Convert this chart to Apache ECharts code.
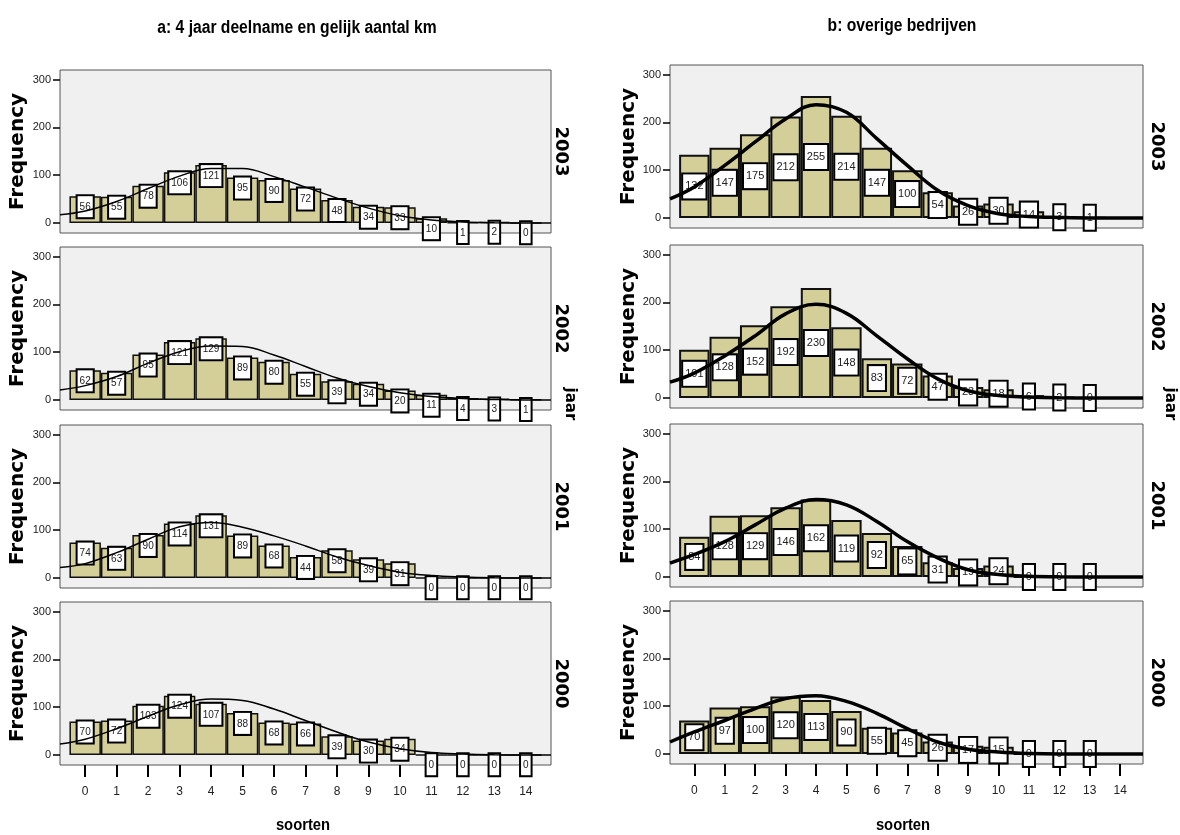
<!DOCTYPE html>
<html>
<head>
<meta charset="utf-8">
<title>soorten per jaar</title>
<script src="https://cdn.jsdelivr.net/npm/echarts@6/dist/echarts.min.js"></script>
<style>
  html, body { margin: 0; padding: 0; background: #fff; }
  #chart { width: 1180px; height: 835px; }
</style>
</head>
<body>
<div id="chart"></div>
<script>
// histogrammen aantal soorten per jaar, a = 4 jaar deelname, b = overige bedrijven

const bins = [0, 1, 2, 3, 4, 5, 6, 7, 8, 9, 10, 11, 12, 13, 14];
const binsB = [0, 1, 2, 3, 4, 5, 6, 7, 8, 9, 10, 11, 12, 13];
const years = ['2003', '2002', '2001', '2000'];
const yTicks = [0, 100, 200, 300];

// a: 4 jaar deelname en gelijk aantal km
const a2003 = [56, 55, 78, 106, 121, 95, 90, 72, 48, 34, 33, 10, 1, 2, 0];
const a2002 = [62, 57, 95, 121, 129, 89, 80, 55, 39, 34, 20, 11, 4, 3, 1];
const a2001 = [74, 63, 90, 114, 131, 89, 68, 44, 58, 39, 31, 0, 0, 0, 0];
const a2000 = [70, 72, 103, 124, 107, 88, 68, 66, 39, 30, 34, 0, 0, 0, 0];

// b: overige bedrijven
const b2003 = [132, 147, 175, 212, 255, 214, 147, 100, 54, 26, 30, 14, 3, 1];
const b2002 = [101, 128, 152, 192, 230, 148, 83, 72, 47, 23, 18, 6, 2, 0];
const b2001 = [84, 128, 129, 146, 162, 119, 92, 65, 31, 19, 24, 0, 0, 0];
const b2000 = [70, 97, 100, 120, 113, 90, 55, 45, 26, 17, 15, 0, 0, 0];

// normale curve
const curveXA = [-0.8, 0, 1, 2, 3, 4, 5, 6, 7, 8, 9, 10, 11, 12, 13, 14, 14.8];
const curveXB = [-0.8, 0, 1, 2, 3, 4, 5, 6, 7, 8, 9, 10, 11, 12, 13, 14, 14.75];
const ca2003 = [17, 25, 45, 72, 98, 114, 114, 97, 75, 52, 31, 15, 6, 2, 0.5, 0, 0];
const ca2002 = [21, 30, 49, 77, 101, 113, 112, 94, 70, 46, 28, 15, 7, 3, 1, 0, 0];
const ca2001 = [22, 30, 53, 81, 107, 116, 106, 88, 67, 44, 26, 12, 5, 2, 0.5, 0, 0];
const ca2000 = [23, 33, 55, 81, 105, 117, 114, 96, 72, 48, 27, 13, 5, 2, 0.5, 0, 0];
const cb2003 = [40, 65, 110, 159, 207, 237, 221, 166, 110, 58, 26, 9, 3, 1, 0, 0, 0];
const cb2002 = [33, 52, 88, 130, 176, 196, 177, 130, 82, 40, 15, 5, 2, 0.5, 0, 0, 0];
const cb2001 = [29, 47, 74, 109, 144, 162, 151, 116, 74, 40, 15, 5, 1.5, 0.5, 0, 0, 0];
const cb2000 = [25, 46, 70, 95, 116, 122, 110, 85, 53, 25, 10, 4, 1, 0, 0, 0, 0];

const SANS = "'Liberation Sans', Arial, sans-serif";
const BOLD_WIDE = "'DejaVu Sans', 'Liberation Sans', sans-serif";
const BAR_FILL = '#d4cf98';
const NARROW_SCALE = 0.87; // Arial Narrow nabootsen

const columns = [
  {
    key: 'a', left: 60, width: 491, tops: [70, 247, 425, 602], min: -0.8, max: 14.8,
    bins, counts: [a2003, a2002, a2001, a2000], curveX: curveXA, curves: [ca2003, ca2002, ca2001, ca2000],
    labelPos: 'insideTop', lineWidth: 1.5, barBorder: 1.5, fontSize: 10, padding: [6, 2, 5, 2],
    yearX: 561, jaarX: 570, nameGap: 32, soortenX: 303,
  },
  {
    key: 'b', left: 670, width: 473, tops: [65, 245, 424, 601], min: -0.8, max: 14.75,
    bins: binsB, counts: [b2003, b2002, b2001, b2000], curveX: curveXB, curves: [cb2003, cb2002, cb2001, cb2000],
    labelPos: 'inside', lineWidth: 3.5, barBorder: 2, fontSize: 11, padding: [7, 2, 6, 2],
    yearX: 1157, jaarX: 1170, nameGap: 29, soortenX: 903,
  },
];
const PANEL_H = 163;

const chart = echarts.init(document.getElementById('chart'));

const grid = [];
const xAxis = [];
const yAxis = [];
const series = [];
const graphic = [];

function rotatedText(x, y, text, font) {
  return {
    type: 'text', x, y, rotation: -Math.PI / 2,
    style: {
      text, font, fill: '#000',
      align: 'center', verticalAlign: 'middle',
      textAlign: 'center', textVerticalAlign: 'middle',
    },
  };
}

function narrowText(x, y, text, size) {
  return {
    type: 'text', x, y, scaleX: NARROW_SCALE,
    style: {
      text, font: `bold ${size}px ${SANS}`, fill: '#000',
      align: 'center', verticalAlign: 'middle',
      textAlign: 'center', textVerticalAlign: 'middle',
    },
  };
}

columns.forEach(col => {
  const step = col.width / (col.max - col.min);
  col.tops.forEach((top, row) => {
    const idx = grid.length;
    const isBottom = row === col.tops.length - 1;
    grid.push({
      left: col.left, top, width: col.width, height: PANEL_H,
      show: true, backgroundColor: '#f0f0f0', borderColor: '#555', borderWidth: 1,
    });
    xAxis.push({
      type: 'value', gridIndex: idx, min: col.min, max: col.max,
      axisLine: { show: false, onZero: false },
      splitLine: { show: false },
      axisTick: { show: isBottom, customValues: bins, length: 12, lineStyle: { color: '#000', width: 2 } },
      axisLabel: { show: isBottom, customValues: bins, margin: 21, fontSize: 12, color: '#222', fontFamily: SANS },
    });
    yAxis.push({
      type: 'value', gridIndex: idx, min: -21, max: 320,
      axisLine: { show: false, onZero: false },
      splitLine: { show: false },
      axisTick: { show: true, customValues: yTicks, length: 7, lineStyle: { color: '#000', width: 1.5 } },
      axisLabel: { customValues: yTicks, margin: 9, fontSize: 11, color: '#222', fontFamily: SANS },
      name: 'Frequency',
      nameLocation: 'middle',
      nameRotate: 90,
      nameGap: col.nameGap,
      nameTextStyle: { fontSize: 20, fontWeight: 'bold', color: '#000', fontFamily: BOLD_WIDE },
    });
    series.push({
      type: 'bar',
      xAxisIndex: idx, yAxisIndex: idx,
      barWidth: step,
      z: 2,
      data: col.bins.map((b, i) => [b, col.counts[row][i]]),
      itemStyle: { color: BAR_FILL, borderColor: '#111', borderWidth: col.barBorder },
      label: {
        show: true,
        position: col.labelPos,
        distance: 0,
        formatter: p => String(p.value[1]),
        backgroundColor: '#fff',
        borderColor: '#000',
        borderWidth: 2,
        padding: col.padding,
        fontSize: col.fontSize,
        fontFamily: SANS,
        color: '#222',
      },
      silent: true,
    });
    series.push({
      type: 'line',
      xAxisIndex: idx, yAxisIndex: idx,
      smooth: 0.4,
      showSymbol: false,
      z: 3,
      clip: true,
      data: col.curveX.map((x, i) => [x, col.curves[row][i]]),
      lineStyle: { color: '#000', width: col.lineWidth },
      silent: true,
    });
    graphic.push(rotatedText(col.yearX, top + PANEL_H / 2, years[row], `bold 18px ${BOLD_WIDE}`));
  });
  graphic.push(rotatedText(col.jaarX, 404, 'jaar', `bold 15px ${BOLD_WIDE}`));
  graphic.push(narrowText(col.soortenX, 825, 'soorten', 17));
});

graphic.push(
  narrowText(297, 28, 'a: 4 jaar deelname en gelijk aantal km', 18),
  narrowText(902, 26, 'b: overige bedrijven', 18)
);

chart.setOption({
  animation: false,
  backgroundColor: '#fff',
  grid,
  xAxis,
  yAxis,
  series,
  graphic,
});
</script>
</body>
</html>
